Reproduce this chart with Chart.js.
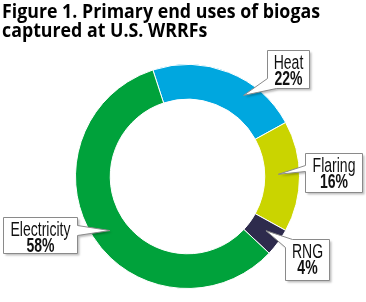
<!DOCTYPE html>
<html>
<head>
<meta charset="utf-8">
<script src="https://cdn.jsdelivr.net/npm/chart.js@4.4.0/dist/chart.umd.min.js"></script>
<style>
  html, body { margin: 0; padding: 0; background: #fff; }
  #wrap { width: 366px; height: 302px; position: relative; }
</style>
</head>
<body>
<div id="wrap"><canvas id="mycanvas"></canvas></div>
<script>
const titleLines = ['Figure 1. Primary end uses of biogas', 'captured at U.S. WRRFs'];
const categories = ['Heat', 'Flaring', 'RNG', 'Electricity'];
const shares = [22, 16, 4, 58];
const shareLabels = ['22%', '16%', '4%', '58%'];
const colors = ['#00a7df', '#cad400', '#2e2b4d', '#00a23b'];

// callout boxes: [x, y, w, h], where the tail leaves the box, where its tip sits on the arc
const callouts = [
    { box: [267, 50, 42, 38], from: ['bottom', 9], to: ['left', 28], tipAt: 0.66, tipR: 0.62 },
    { box: [305, 153, 57, 39], from: ['left', 18], to: ['left', 12], tipAt: 0.47, tipR: 0.38 },
    { box: [285, 239, 44, 41], from: ['left', 8], to: ['top', 7], tipAt: 0.4, tipR: 0.5 },
    { box: [3, 217, 74, 36], from: ['right', 8], to: ['right', 18], tipAt: 0.49, tipR: 0.5 }
];

const labelFont = '"Liberation Sans", Arial, sans-serif';

function perim(box, side, off) {
    const w = box[2], h = box[3];
    if (side === 'top') return off;
    if (side === 'right') return w + off;
    if (side === 'bottom') return w + h + (w - off);
    return 2 * w + h + (h - off);
}

function perimPoint(box, t) {
    const [x, y, w, h] = box;
    const P = 2 * w + 2 * h;
    t = ((t % P) + P) % P;
    if (t <= w) return [x + t, y];
    if (t <= w + h) return [x + w, y + (t - w)];
    if (t <= 2 * w + h) return [x + w - (t - w - h), y + h];
    return [x, y + h - (t - 2 * w - h)];
}

function calloutPath(ctx, c, tip) {
    const [x, y, w, h] = c.box;
    const P = 2 * w + 2 * h;
    const ta = perim(c.box, c.from[0], c.from[1]);
    const tb = perim(c.box, c.to[0], c.to[1]);
    const corners = [0, w, w + h, 2 * w + h];
    const span = ((ta - tb) % P + P) % P;
    const pts = [perimPoint(c.box, tb)];
    corners
        .map(t => ({ t: t, d: ((t - tb) % P + P) % P }))
        .filter(o => o.d > 0 && o.d < span)
        .sort((a, b) => a.d - b.d)
        .forEach(o => pts.push(perimPoint(c.box, o.t)));
    pts.push(perimPoint(c.box, ta));
    pts.push(tip);
    ctx.beginPath();
    ctx.moveTo(pts[0][0] + 0.5, pts[0][1] + 0.5);
    for (let i = 1; i < pts.length; i++) ctx.lineTo(pts[i][0] + 0.5, pts[i][1] + 0.5);
    ctx.closePath();
}

function fitText(ctx, text, x, y, scaleX, align) {
    ctx.save();
    ctx.translate(x, y);
    ctx.scale(scaleX, 1);
    ctx.textAlign = align;
    ctx.fillText(text, 0, 0);
    ctx.restore();
}

const titlePlugin = {
    id: 'figTitle',
    afterDraw(chart) {
        const ctx = chart.ctx;
        ctx.save();
        ctx.fillStyle = '#000';
        ctx.textBaseline = 'alphabetic';
        ctx.font = 'bold 20px "Open Sans", sans-serif';
        const sx = 318 / ctx.measureText(titleLines[0]).width;
        fitText(ctx, titleLines[0], 2, 18, sx, 'left');
        fitText(ctx, titleLines[1], 2, 37, sx, 'left');
        ctx.restore();
    }
};

const calloutPlugin = {
    id: 'callouts',
    afterDatasetsDraw(chart) {
        const ctx = chart.ctx;
        const arcs = chart.getDatasetMeta(0).data;
        ctx.save();
        ctx.font = '20px ' + labelFont;
        // condensed look: squeeze so "Electricity" is ~60px wide
        const sx = 60 / ctx.measureText('Electricity').width;
        ctx.restore();
        arcs.forEach((arc, i) => {
            const c = callouts[i];
            const p = arc.getProps(['x', 'y', 'startAngle', 'endAngle', 'innerRadius', 'outerRadius'], true);
            const a = p.startAngle + c.tipAt * (p.endAngle - p.startAngle);
            const r = p.innerRadius + c.tipR * (p.outerRadius - p.innerRadius);
            const tip = [p.x + r * Math.cos(a), p.y + r * Math.sin(a)];

            ctx.save();
            ctx.shadowColor = 'rgba(0,0,0,0.25)';
            ctx.shadowOffsetX = 2;
            ctx.shadowOffsetY = 2;
            ctx.shadowBlur = 2;
            calloutPath(ctx, c, tip);
            ctx.fillStyle = '#fff';
            ctx.fill();
            ctx.restore();

            ctx.save();
            calloutPath(ctx, c, tip);
            ctx.strokeStyle = '#8a8a8a';
            ctx.lineWidth = 1;
            ctx.stroke();

            const cx = c.box[0] + c.box[2] / 2 + 0.5;
            ctx.fillStyle = '#111';
            ctx.font = '20px ' + labelFont;
            fitText(ctx, categories[i], cx, c.box[1] + 19, sx, 'center');
            ctx.font = 'bold 20px ' + labelFont;
            fitText(ctx, shareLabels[i], cx, c.box[1] + 35, sx, 'center');
            ctx.restore();
        });
    }
};

const ctx = document.getElementById('mycanvas');
const chart = new Chart(ctx, {
    type: 'doughnut',
    data: {
        labels: categories,
        datasets: [{
            data: shares,
            backgroundColor: colors,
            borderColor: '#ffffff',
            borderWidth: 1
        }]
    },
    options: {
        responsive: true,
        maintainAspectRatio: false,
        animation: false,
        rotation: -18,
        cutout: '69%',
        layout: { padding: { left: 75, right: 66, top: 64, bottom: 13 } },
        plugins: {
            legend: { display: false },
            tooltip: { enabled: false },
            title: { display: false }
        }
    },
    plugins: [titlePlugin, calloutPlugin]
});
</script>
</body>
</html>
